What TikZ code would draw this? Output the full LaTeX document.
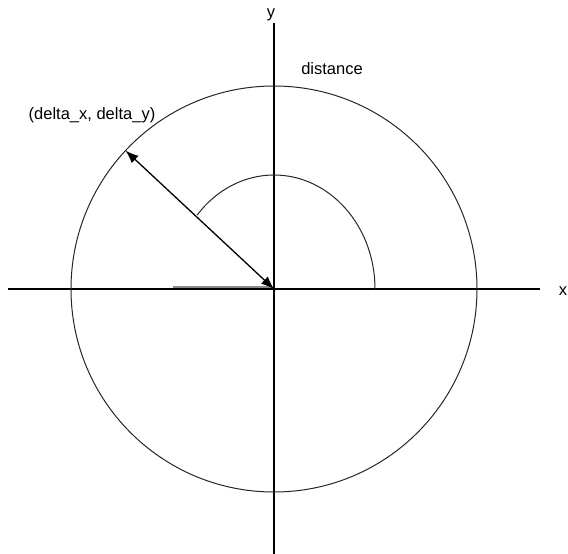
\documentclass[tikz,border=0pt]{standalone}
\usepackage{fontspec}
\setmainfont{Liberation Sans}
\usetikzlibrary{arrows.meta,calc}
\begin{document}
\begin{tikzpicture}[x=1pt,y=-1pt,
  axis/.style={line width=2pt,black},
  lbl/.style={font=\fontsize{16.5}{18}\selectfont,inner sep=0pt},
  thin/.style={line width=1pt,black!85}]
\useasboundingbox (0,0) rectangle (568,554);
\coordinate (O) at (274,289);
\coordinate (xl) at (8,289);
\coordinate (xr) at (540,289);
\coordinate (yt) at (274,23);
\coordinate (yb) at (274,554);
\coordinate (P) at ($(O)+(-137:203)$);
\draw[axis] (xl) -- (xr);
\draw[axis] (yt) -- (yb);
\draw[thin] (O) circle[radius=203];
\draw[line width=2pt,black!45] (173,287) -- (272,287);
\draw[thin] ($(O)+(101,0)$) arc[start angle=0,end angle=-139.6,x radius=101,y radius=114];
\draw[line width=1.3pt,{Latex[length=13pt,width=10pt]}-{Latex[length=13pt,width=10pt]}] (P) -- (O);
\node[lbl] (ylab) at (271,15) {y};
\node[lbl] (xlab) at (563,291) {x};
\node[lbl] (dist) at (332,69) {distance};
\node[lbl] (pt) at (92,115) {(delta\_x, delta\_y)};
\end{tikzpicture}
\end{document}
